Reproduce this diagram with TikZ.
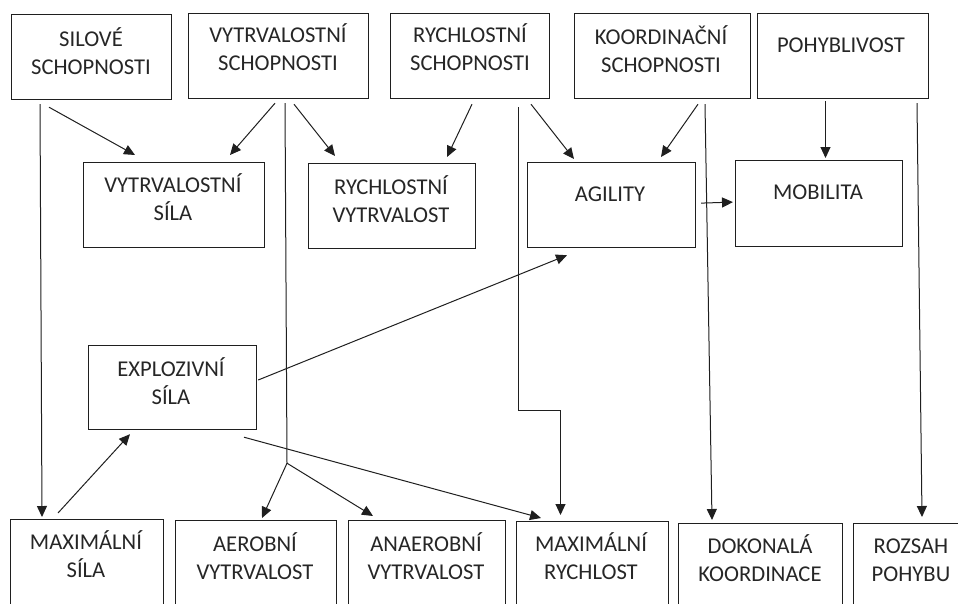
\documentclass[tikz,border=0pt]{standalone}
\usepackage{fontspec}
\setmainfont{Carlito}
\usetikzlibrary{arrows.meta,calc}
\begin{document}
\begin{tikzpicture}[x=1pt,y=-1pt,
  box/.style={draw=black!88,line width=1.2pt,anchor=north west,inner sep=0pt},
  lbl/.style={align=center,inner sep=0pt,text=black!85,font=\fontsize{22.6}{28}\selectfont},
  con/.style={draw=black!88,line width=1pt},
  arr/.style={con,-{Triangle[length=11pt,width=10pt]}}]
\useasboundingbox (0,0) rectangle (958,603);
\clip (0,0) rectangle (958,603);
% top row
\node[box,minimum width=160pt,minimum height=85pt] (sil) at (11,14) {};
\node[box,minimum width=180pt,minimum height=85pt] (vs) at (188,13) {};
\node[box,minimum width=159pt,minimum height=85pt] (rs) at (390,13) {};
\node[box,minimum width=176pt,minimum height=85pt] (ks) at (574,13) {};
\node[box,minimum width=171pt,minimum height=85pt] (poh) at (757,13) {};
% second row
\node[box,minimum width=181pt,minimum height=85pt] (vsila) at (83,162) {};
\node[box,minimum width=167pt,minimum height=85pt] (rvytr) at (308,163) {};
\node[box,minimum width=168pt,minimum height=85pt] (agi) at (527,162) {};
\node[box,minimum width=167pt,minimum height=86pt] (mob) at (735,160) {};
% middle
\node[box,minimum width=168pt,minimum height=84pt] (expl) at (88,345) {};
% bottom row
\node[box,minimum width=153pt,minimum height=120pt] (maxs) at (10,519) {};
\node[box,minimum width=161pt,minimum height=120pt] (aer) at (175,520) {};
\node[box,minimum width=157pt,minimum height=120pt] (anaer) at (348,520) {};
\node[box,minimum width=152pt,minimum height=120pt] (maxr) at (516,521) {};
\node[box,minimum width=164pt,minimum height=120pt] (dok) at (678,523) {};
\node[box,minimum width=120pt,minimum height=120pt] (roz) at (853,523) {};
% texts
\node[lbl] (tsil) at (91,55) {\strut SILOVÉ\\\strut SCHOPNOSTI};
\node[lbl] (tvs) at (278,51) {\strut VYTRVALOSTNÍ\\\strut SCHOPNOSTI};
\node[lbl] (trs) at (470,51) {\strut RYCHLOSTNÍ\\\strut SCHOPNOSTI};
\node[lbl] (tks) at (661,52.5) {\strut KOORDINAČNÍ\\\strut SCHOPNOSTI};
\node[lbl] (tpoh) at (841,47) {\strut POHYBLIVOST};
\node[lbl] (tvsila) at (173,201) {\strut VYTRVALOSTNÍ\\\strut SÍLA};
\node[lbl] (trvytr) at (391,203) {\strut RYCHLOSTNÍ\\\strut VYTRVALOST};
\node[lbl] (tagi) at (610,196) {\strut AGILITY};
\node[lbl] (tmob) at (818,194) {\strut MOBILITA};
\node[lbl] (texpl) at (171,384.5) {\strut EXPLOZIVNÍ\\\strut SÍLA};
\node[lbl] (tmaxs) at (86,558) {\strut MAXIMÁLNÍ\\\strut SÍLA};
\node[lbl] (taer) at (255,560) {\strut AEROBNÍ\\\strut VYTRVALOST};
\node[lbl] (tanaer) at (426,560) {\strut ANAEROBNÍ\\\strut VYTRVALOST};
\node[lbl] (tmaxr) at (591,560) {\strut MAXIMÁLNÍ\\\strut RYCHLOST};
\node[lbl] (tdok) at (760,562) {\strut DOKONALÁ\\\strut KOORDINACE};
\node[lbl] (troz) at (911,562) {\strut ROZSAH\\\strut POHYBU};
% connectors
\draw[arr] ([xshift=29pt,yshift=-4pt]sil.south west) -- ([xshift=32pt,yshift=2pt]maxs.north west);
\draw[arr] ([xshift=38pt,yshift=-7pt]sil.south west) -- ([xshift=52pt,yshift=7pt]vsila.north west);
\draw[arr] ([xshift=87pt,yshift=-4pt]vs.south west) -- ([xshift=147pt,yshift=7pt]vsila.north west);
\coordinate (j1) at ($(vs.south west)+(99,364)$);
\draw[con] ([xshift=97pt,yshift=-4pt]vs.south west) -- (j1);
\draw[arr] (j1) -- ([xshift=87pt,yshift=2pt]aer.north west);
\draw[arr] (j1) -- ([xshift=25pt,yshift=4pt]anaer.north west);
\draw[arr] ([xshift=106pt,yshift=-5pt]vs.south west) -- ([xshift=27pt,yshift=7pt]rvytr.north west);
\draw[arr] ([xshift=82pt,yshift=-5pt]rs.south west) -- ([xshift=139pt,yshift=6pt]rvytr.north west);
\draw[arr] ([xshift=141pt,yshift=-5pt]rs.south west) -- ([xshift=47pt,yshift=3pt]agi.north west);
\coordinate (j2) at ($(rs.south west)+(128.5,311.5)$);
\draw[arr] ([xshift=128.5pt,yshift=-8pt]rs.south west) -- (j2) -| ([xshift=44.5pt,yshift=6pt]maxr.north west);
\draw[arr] ([xshift=124pt,yshift=-5pt]ks.south west) -- ([xshift=134pt,yshift=5pt]agi.north west);
\draw[arr] ([xshift=131pt,yshift=-5pt]ks.south west) -- ([xshift=34pt,yshift=3pt]dok.north west);
\draw[arr] ([xshift=68.5pt,yshift=-2pt]poh.south west) -- ([xshift=90.5pt,yshift=2pt]mob.north west);
\draw[arr] ([xshift=160pt,yshift=-4pt]poh.south west) -- ([xshift=69pt,yshift=6pt]roz.north west);
\draw[arr] ([xshift=5pt,yshift=2pt]agi.east) -- ([xshift=-2pt,yshift=1.5pt]mob.west);
\draw[arr] ([xshift=1pt,yshift=-35pt]expl.north east) -- ([xshift=40pt,yshift=-7pt]agi.south west);
\draw[arr] ([xshift=48pt,yshift=6pt]maxs.north west) -- ([xshift=42pt,yshift=-4pt]expl.south west);
\draw[arr] ([xshift=156pt,yshift=-7pt]expl.south west) -- ([xshift=25pt,yshift=3pt]maxr.north west);
\end{tikzpicture}
\end{document}
